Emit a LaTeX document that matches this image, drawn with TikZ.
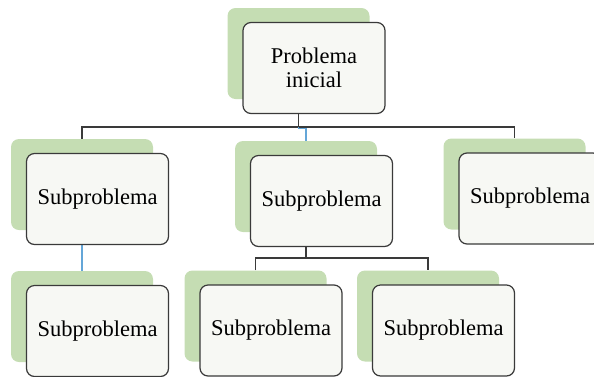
\documentclass[tikz,border=0pt]{standalone}
\usepackage{fontspec}
\setmainfont{Liberation Serif}
\definecolor{leaf}{HTML}{C5DDB3}
\definecolor{paper}{HTML}{F7F8F4}
\definecolor{edge}{HTML}{3A3A3A}
\definecolor{sky}{HTML}{64A6D8}

\begin{document}
\begin{tikzpicture}[x=1pt, y=-1pt,
    back/.style ={fill=leaf, draw=none, rounded corners=8pt,
                  minimum width=142pt, minimum height=91pt},
    card/.style ={draw=edge, line width=1.2pt, fill=paper, rounded corners=8pt,
                  minimum width=142pt, minimum height=91pt, align=center,
                  font=\fontsize{22.5}{24}\selectfont},
    link/.style ={draw=edge, line width=1.2pt},
    tap/.style  ={draw=sky, line width=1.2pt},
  ]
  \useasboundingbox (0,0) rectangle (594,376);
  \clip (0,0) rectangle (594,376);

  % green blocks behind every box
  \node[back] (g0) at (298.5,53.5) {};
  \node[back] (g1) at (82,184.5) {};
  \node[back] (g2) at (306,186.5) {};
  \node[back] (g3) at (514.5,184) {};
  \node[back] (g4) at (82,316.5) {};
  \node[back] (g5) at (255.5,316) {};
  \node[back] (g6) at (428,316) {};

  % junctions of the tree
  \coordinate (j0) at (298.5,127);
  \coordinate (j2) at (306,258);

  % connectors
  \draw[link] (g0.south) -- (j0);
  \draw[link] (g1.north) |- (j0) -| (g3.north);
  \draw[tap] (j0) -- ([yshift=-1.5pt]j0) -| (g2.north);
  \draw[tap] (g1.south) -- (g4.north);
  \draw[link] (g2.south) -- (j2);
  \draw[link] (g5.north) |- (j2) -| (g6.north);

  % boxes
  \node[card] (c0) at ([xshift=15.5pt,yshift=-14.5pt]g0.center) {Problema\\inicial};
  \node[card] (c1) at ([xshift=15.5pt,yshift=-14.5pt]g1.center) {Subproblema};
  \node[card] (c2) at ([xshift=15.5pt,yshift=-14.5pt]g2.center) {Subproblema};
  \node[card] (c3) at ([xshift=15.5pt,yshift=-14.5pt]g3.center) {Subproblema};
  \node[card] (c4) at ([xshift=15.5pt,yshift=-14.5pt]g4.center) {Subproblema};
  \node[card] (c5) at ([xshift=15.5pt,yshift=-14.5pt]g5.center) {Subproblema};
  \node[card] (c6) at ([xshift=15.5pt,yshift=-14.5pt]g6.center) {Subproblema};
\end{tikzpicture}
\end{document}
